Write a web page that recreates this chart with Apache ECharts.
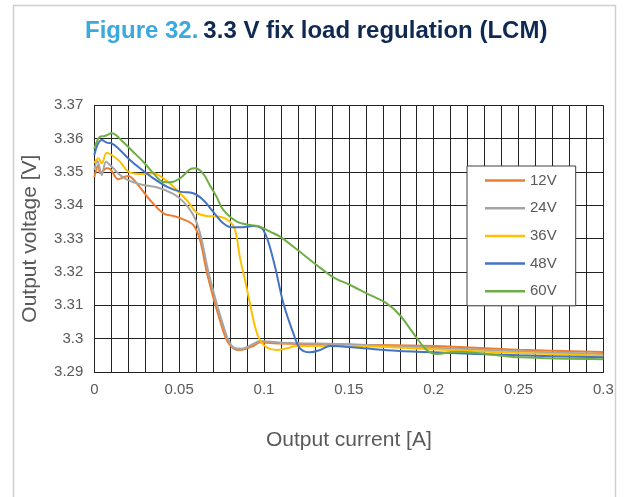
<!DOCTYPE html>
<html>
<head>
<meta charset="utf-8">
<script src="https://cdn.jsdelivr.net/npm/echarts@6/dist/echarts.min.js"></script>
<style>html,body{margin:0;padding:0;background:#fff;}#chart{width:626px;height:497px;}</style>
</head>
<body>
<div id="chart"></div>
<script>
// Tick labels
const xTickLabels = ['0', '0.05', '0.1', '0.15', '0.2', '0.25', '0.3'];
const yTickLabels = ['3.29', '3.3', '3.31', '3.32', '3.33', '3.34', '3.35', '3.36', '3.37'];
const seriesNames = ['12V', '24V', '36V', '48V', '60V'];

// Series data: [output current A, output voltage V]
const v12 = [[0,3.3484],[0.0024,3.3521],[0.0034,3.3496],[0.0073,3.3511],[0.0093,3.3509],[0.0141,3.3478],[0.017,3.3484],[0.02,3.3488],[0.025,3.3466],[0.0328,3.3416],[0.0407,3.3376],[0.0466,3.3368],[0.0524,3.3358],[0.0583,3.3341],[0.0623,3.3296],[0.066,3.3206],[0.07,3.3126],[0.074,3.3056],[0.078,3.2996],[0.082,3.2971],[0.0859,3.2966],[0.0937,3.2978],[0.0976,3.2989],[0.1055,3.2986],[0.12,3.2984],[0.15,3.2982],[0.2,3.2978],[0.25,3.2967],[0.3,3.2960]];
const v24 = [[0,3.3506],[0.0018,3.3534],[0.0044,3.3491],[0.0069,3.3531],[0.0093,3.3521],[0.0151,3.3491],[0.019,3.3478],[0.0269,3.3463],[0.0368,3.3454],[0.0466,3.3434],[0.0524,3.3411],[0.0583,3.3371],[0.0623,3.3316],[0.067,3.3206],[0.071,3.3126],[0.075,3.3056],[0.079,3.2996],[0.083,3.2971],[0.0869,3.2970],[0.0937,3.2984],[0.0976,3.2993],[0.11,3.2988],[0.15,3.2983],[0.2,3.2973],[0.25,3.2962],[0.3,3.2954]];
const v36 = [[0,3.3526],[0.0024,3.3541],[0.0044,3.3526],[0.0073,3.3558],[0.0103,3.3551],[0.0151,3.3531],[0.02,3.3501],[0.0269,3.3494],[0.0348,3.3496],[0.0407,3.3481],[0.0466,3.3456],[0.0544,3.3416],[0.0603,3.3378],[0.0662,3.3368],[0.074,3.3366],[0.08,3.3351],[0.083,3.3326],[0.0859,3.3241],[0.0888,3.3176],[0.0917,3.3106],[0.0947,3.3036],[0.0976,3.2996],[0.1016,3.2974],[0.1075,3.2966],[0.1134,3.2971],[0.1193,3.2978],[0.15,3.2978],[0.2,3.2968],[0.25,3.2957],[0.3,3.2949]];
const v48 = [[0,3.3551],[0.0018,3.3581],[0.0044,3.3596],[0.0073,3.3588],[0.0103,3.3586],[0.0151,3.3566],[0.021,3.3536],[0.0269,3.3511],[0.0348,3.3481],[0.0427,3.3456],[0.0505,3.3441],[0.0583,3.3436],[0.0642,3.3416],[0.07,3.3381],[0.076,3.3346],[0.081,3.3334],[0.0859,3.3334],[0.0937,3.3338],[0.0996,3.3326],[0.1055,3.3236],[0.1114,3.3106],[0.1173,3.3016],[0.1212,3.2971],[0.1271,3.2959],[0.133,3.2966],[0.1389,3.2978],[0.1585,3.2971],[0.178,3.2964],[0.2,3.2959],[0.25,3.2950],[0.3,3.2944]];
const v60 = [[0,3.3569],[0.0034,3.3606],[0.0063,3.3608],[0.0103,3.3616],[0.017,3.359],[0.023,3.356],[0.029,3.353],[0.0348,3.3496],[0.0407,3.347],[0.0446,3.3469],[0.0505,3.3481],[0.0564,3.3508],[0.0593,3.3511],[0.064,3.3496],[0.068,3.3461],[0.072,3.3426],[0.076,3.3386],[0.084,3.3351],[0.0917,3.3341],[0.0976,3.3336],[0.1035,3.3321],[0.1094,3.3306],[0.1198,3.3266],[0.131,3.3221],[0.1409,3.3184],[0.1507,3.3161],[0.1605,3.3136],[0.1723,3.3106],[0.18,3.3071],[0.188,3.3016],[0.1959,3.2966],[0.2018,3.2954],[0.2136,3.2961],[0.231,3.2954],[0.251,3.2944],[0.3,3.2938]];

const seriesData = [v12, v24, v36, v48, v60];
const colors = ['#ED7D31', '#A5A5A5', '#FFC000', '#4472C4', '#70AD47'];

const chart = echarts.init(document.getElementById('chart'), null, {renderer: 'canvas'});
const FONT = 'Liberation Sans, Arial, sans-serif';
const option = {
  animation: false,
  backgroundColor: '#ffffff',
  color: colors,
  textStyle: {fontFamily: FONT},
  graphic: [{
    type: 'rect',
    shape: {x: 13.5, y: 5.5, width: 602, height: 600},
    style: {fill: 'none', stroke: '#c8d0d8', lineWidth: 1.5},
    silent: true
  }],
  title: {
    text: '{a|Figure 32.} {b|3.3 V fix load regulation (LCM)}',
    left: 85,
    top: 19,
    padding: 0,
    textStyle: {
      rich: {
        a: {fontSize: 24, fontWeight: 'bold', color: '#3AA9DD', fontFamily: FONT, lineHeight: 24},
        b: {fontSize: 24, fontWeight: 'bold', color: '#0F2A52', fontFamily: FONT, lineHeight: 24}
      }
    }
  },
  legend: {
    data: seriesNames,
    orient: 'vertical',
    left: 467,
    top: 166,
    padding: [7, 19, 7, 18],
    backgroundColor: '#ffffff',
    borderColor: '#404040',
    borderWidth: 1,
    icon: 'rect',
    itemWidth: 40,
    itemHeight: 2.5,
    itemGap: 12.7,
    textStyle: {fontSize: 15, color: '#595959', lineHeight: 14, fontFamily: FONT}
  },
  grid: {left: 94.3, right: 22.6, top: 105.3, bottom: 125, containLabel: false},
  xAxis: {
    type: 'value',
    min: 0, max: 0.3, interval: 0.01,
    name: 'Output current [A]',
    nameLocation: 'middle',
    nameGap: 57.5,
    nameTextStyle: {fontSize: 21, color: '#595959', fontFamily: FONT},
    axisLine: {show: true, lineStyle: {color: '#222', width: 1}},
    axisTick: {show: false},
    splitLine: {show: true, lineStyle: {color: '#222', width: 1}},
    axisLabel: {
      fontSize: 15, color: '#595959', margin: 10, fontFamily: FONT,
      formatter: function (val, idx) {
        const i = Math.round(val * 100);
        return i % 5 === 0 ? xTickLabels[i / 5] : '';
      }
    }
  },
  yAxis: {
    type: 'value',
    min: 3.29, max: 3.37, interval: 0.01,
    name: 'Output voltage [V]',
    nameLocation: 'middle',
    nameGap: 54,
    nameTextStyle: {fontSize: 21, color: '#595959', fontFamily: FONT},
    axisLine: {show: true, lineStyle: {color: '#222', width: 1}},
    axisTick: {show: false},
    splitLine: {show: true, lineStyle: {color: '#222', width: 1}},
    axisLabel: {
      fontSize: 15, color: '#595959', margin: 11, fontFamily: FONT,
      formatter: function (val) {
        const i = Math.round((val - 3.29) * 100);
        return yTickLabels[i] !== undefined ? yTickLabels[i] : '';
      }
    }
  },
  series: seriesNames.map((n, i) => ({
    name: n,
    type: 'line',
    data: seriesData[i],
    smooth: 0.35,
    showSymbol: false,
    symbol: 'none',
    lineStyle: {width: 2, color: colors[i]},
    itemStyle: {color: colors[i]}
  }))
};
chart.setOption(option);
</script>
</body>
</html>
